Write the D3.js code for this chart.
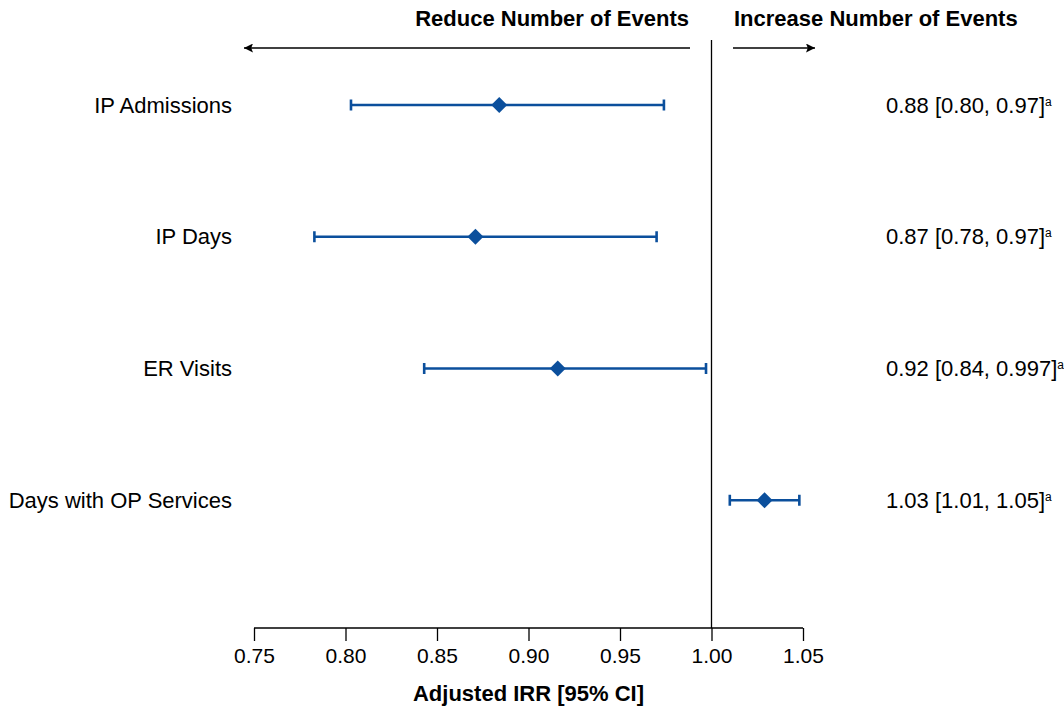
<!DOCTYPE html>
<html>
<head>
<meta charset="utf-8">
<script src="https://cdn.jsdelivr.net/npm/d3@7"></script>
<style>
  body { margin: 0; background: #fff; }
  text { font-family: "Liberation Sans", Arial, sans-serif; fill: #000; }
</style>
</head>
<body>
<div id="chart"></div>
<script>
// data
const outcomes = ["IP Admissions", "IP Days", "ER Visits", "Days with OP Services"];
const irr = [0.884, 0.871, 0.916, 1.029];
const lower = [0.803, 0.783, 0.843, 1.010];
const upper = [0.974, 0.970, 0.997, 1.048];
const ciLabels = ["0.88 [0.80, 0.97]", "0.87 [0.78, 0.97]", "0.92 [0.84, 0.997]", "1.03 [1.01, 1.05]"];
const xTicks = [0.75, 0.80, 0.85, 0.90, 0.95, 1.00, 1.05];

const width = 1064, height = 706;
const blue = "#0b4f9c";

const svg = d3.select("#chart").append("svg")
  .attr("width", width).attr("height", height);

const x = d3.scaleLinear().domain([0.75, 1.05]).range([254, 803]);
const y = d3.scalePoint().domain(outcomes.concat(["_pad"])).range([105, 632]);
const axisY = 628;

// x axis, ticks pointing down
const axis = svg.append("g")
  .attr("transform", `translate(0,${axisY})`)
  .call(d3.axisBottom(x).tickValues(xTicks).tickFormat(d3.format(".2f")).tickSize(13).tickSizeOuter(0).tickPadding(0));
axis.select(".domain").attr("stroke", "#000").attr("stroke-width", 1.3).attr("d", `M${x(0.75)},0H${x(1.05)}`);
axis.selectAll(".tick line").attr("stroke", "#000").attr("stroke-width", 1.3);
axis.selectAll(".tick text").attr("y", 35).attr("dy", 0).style("font-size", "21px");

svg.append("text")
  .attr("x", x(0.90)).attr("y", 701)
  .attr("text-anchor", "middle")
  .style("font-size", "22px").style("font-weight", "bold")
  .text("Adjusted IRR [95% CI]");

// null line
svg.append("line")
  .attr("x1", x(1)).attr("x2", x(1))
  .attr("y1", 40).attr("y2", axisY)
  .attr("stroke", "#000").attr("stroke-width", 1.3);

// direction arrows and headings
const defs = svg.append("defs");
defs.append("marker").attr("id", "arr")
  .attr("viewBox", "0 0 10 10").attr("refX", 10).attr("refY", 5)
  .attr("markerWidth", 16).attr("markerHeight", 9).attr("markerUnits", "userSpaceOnUse")
  .attr("orient", "auto")
  .append("path").attr("d", "M0,0L10,5L0,10L2,5Z").attr("fill", "#000");

svg.append("line").attr("x1", 690).attr("x2", 244).attr("y1", 48).attr("y2", 48)
  .attr("stroke", "#000").attr("stroke-width", 1.3).attr("marker-end", "url(#arr)");
svg.append("line").attr("x1", 733).attr("x2", 815).attr("y1", 48).attr("y2", 48)
  .attr("stroke", "#000").attr("stroke-width", 1.3).attr("marker-end", "url(#arr)");

svg.append("text").attr("x", 689).attr("y", 26).attr("text-anchor", "end")
  .style("font-size", "22px").style("font-weight", "bold").text("Reduce Number of Events");
svg.append("text").attr("x", 734).attr("y", 26).attr("text-anchor", "start")
  .style("font-size", "22px").style("font-weight", "bold").text("Increase Number of Events");

// rows
const rows = outcomes.map((d, i) => ({ name: d, est: irr[i], lo: lower[i], hi: upper[i], lab: ciLabels[i] }));
const g = svg.append("g").selectAll("g").data(rows).join("g")
  .attr("transform", d => `translate(0,${y(d.name)})`);

g.append("text").attr("x", 232).attr("y", 0).attr("dy", "0.35em")
  .attr("text-anchor", "end").style("font-size", "22px").text(d => d.name);

g.append("line").attr("x1", d => x(d.lo)).attr("x2", d => x(d.hi))
  .attr("stroke", blue).attr("stroke-width", 2.6);
g.append("line").attr("x1", d => x(d.lo)).attr("x2", d => x(d.lo)).attr("y1", -5.5).attr("y2", 5.5)
  .attr("stroke", blue).attr("stroke-width", 2.6);
g.append("line").attr("x1", d => x(d.hi)).attr("x2", d => x(d.hi)).attr("y1", -5.5).attr("y2", 5.5)
  .attr("stroke", blue).attr("stroke-width", 2.6);
g.append("path")
  .attr("d", d => `M${x(d.est)},-8L${x(d.est) + 8},0L${x(d.est)},8L${x(d.est) - 8},0Z`)
  .attr("fill", blue);

const lab = g.append("text").attr("x", 886).attr("y", 0).attr("dy", "0.35em")
  .style("font-size", "22px");
lab.append("tspan").text(d => d.lab);
lab.append("tspan").attr("dy", "-0.6em").style("font-size", "12px").text("a");
</script>
</body>
</html>
